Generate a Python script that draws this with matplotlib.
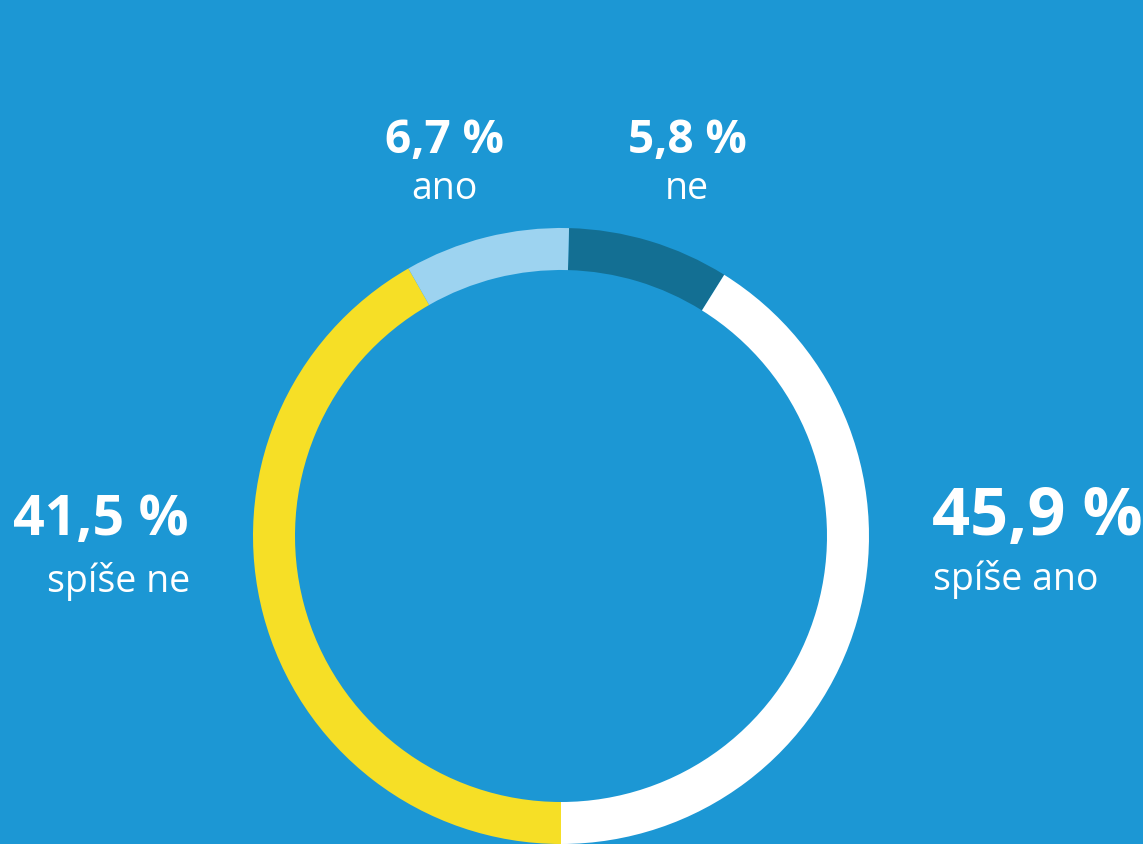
import matplotlib.pyplot as plt

# values printed on the chart
labels = ["ne", "spíše ano", "spíše ne", "ano"]
percent_labels = ["5,8 %", "45,9 %", "41,5 %", "6,7 %"]
# arc sizes as drawn in the picture (degrees, clockwise from the top)
arc_degrees = [30.5, 148.0, 150.3, 31.2]
colors = ["#136f93", "#ffffff", "#f6df26", "#9dd3f0"]

bg = "#1c97d4"
W, H = 1143, 845

fig = plt.figure(figsize=(W / 100, H / 100), dpi=100, facecolor=bg)
ax = fig.add_axes([0, 0, 1, 1])
ax.set_facecolor(bg)

ax.pie(arc_degrees, colors=colors, startangle=88.5, counterclock=False,
       radius=308, center=(561, H - 537),
       wedgeprops=dict(width=42, linewidth=0))
ax.set_xlim(0, W)
ax.set_ylim(0, H)
ax.set_aspect("equal")
ax.axis("off")

font = "Open Sans"

def put(x, y, s, size, weight="normal", ha="center"):
    fig.text(x / W, 1 - y / H, s, fontsize=size, fontweight=weight,
             color="white", ha=ha, va="baseline", family=font)

# top labels
put(444, 153, percent_labels[3], 33, "bold")
put(444, 199, labels[3], 27)
put(687, 153, percent_labels[0], 33, "bold")
put(687, 199, labels[0], 27)

# left label
put(189, 535, percent_labels[2], 40, "bold", ha="right")
put(190, 592, labels[2], 27, ha="right")

# right label
put(932, 535, percent_labels[1], 48, "bold", ha="left")
put(933, 590, labels[1], 27, ha="left")

fig.savefig("out.png", dpi=100, facecolor=bg)
